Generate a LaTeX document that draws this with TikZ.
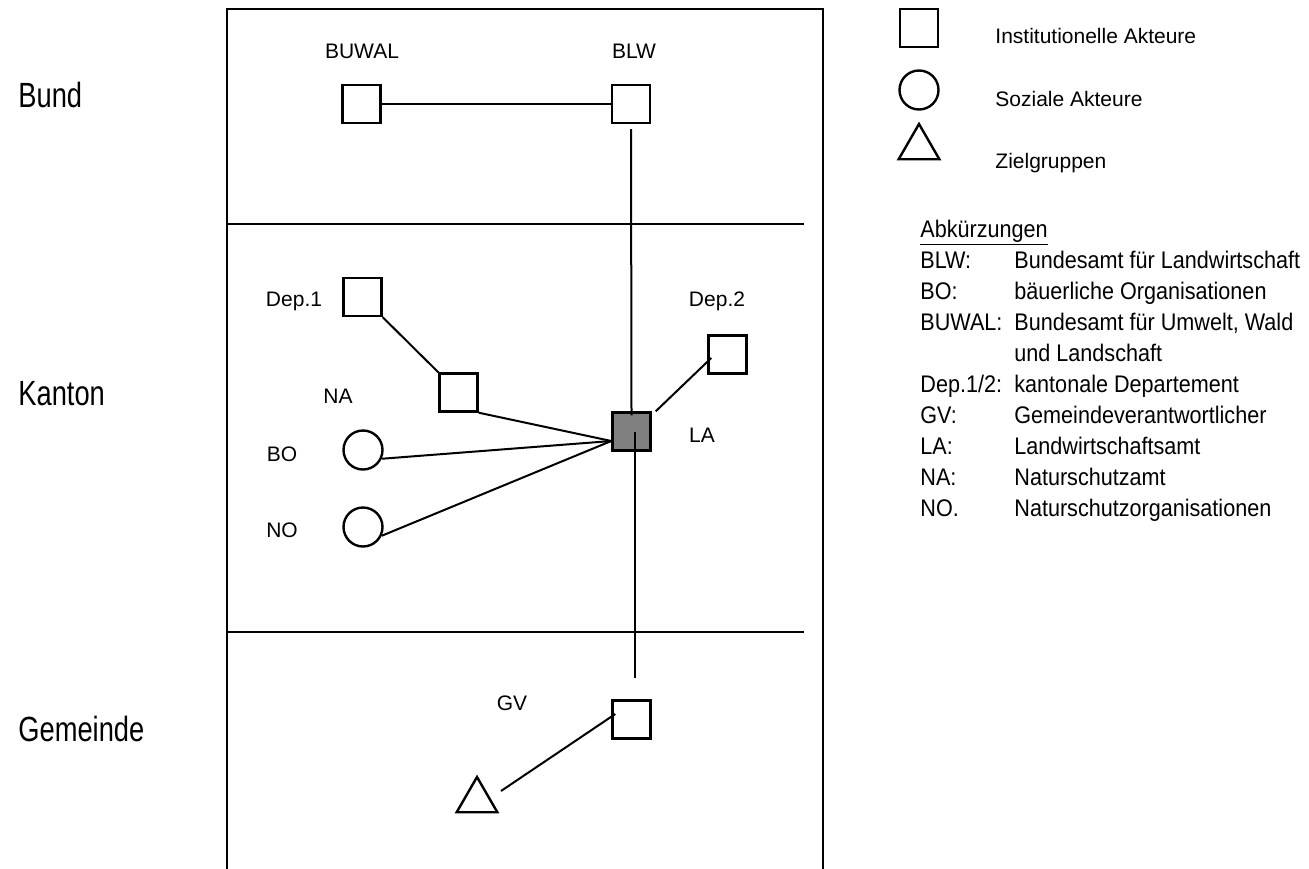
\documentclass[tikz,border=0pt]{standalone}
\usepackage{fontspec}
\setmainfont{Liberation Sans}
\newfontfamily\narrowfont{Liberation Sans}[FakeStretch=0.78]
\newfontfamily\listfont{Liberation Sans}[FakeStretch=0.9]
\usetikzlibrary{shapes.geometric}
\definecolor{lagray}{rgb}{0.5,0.5,0.5}

\begin{document}
\begin{tikzpicture}
    [x=0.5pt, y=-0.5pt,
    inst/.style={draw, line width=1.2pt, minimum size=19pt, inner sep=0pt},
    soz/.style={circle, draw, line width=1.2pt, minimum size=19.5pt, inner sep=0pt},
    ziel/.style={regular polygon, regular polygon sides=3, draw, line width=1.2pt, minimum size=23.5pt, inner sep=0pt},
    lbl/.style={font=\fontsize{10.5}{12}\selectfont, inner sep=0pt, anchor=base},
    ebene/.style={font=\narrowfont\fontsize{17.5}{20}\selectfont, inner sep=0pt, anchor=base west},
    leg/.style={font=\fontsize{10.5}{12}\selectfont, inner sep=0pt, anchor=base west},
    abk/.style={font=\listfont\fontsize{12}{14}\selectfont, inner sep=0pt, anchor=base west},
    line/.style={line width=1pt}]
    \useasboundingbox (0,0) rectangle (1309,868);
    % frame and levels
    \draw[line width=1.25pt] (227,880) -- (227,9) -- (823,9) -- (823,880);
    \draw[line] (227,224) -- (804,224);
    \draw[line] (227,632) -- (804,632);
    \node[ebene] (bund) at (18,107) {Bund};
    \node[ebene] (kanton) at (18,405) {Kanton};
    \node[ebene] (gemeinde) at (18,741) {Gemeinde};
    % actors
    \node[inst] (BUWAL) at (361.5,104) {};
    \node[inst] (BLW) at (631,104) {};
    \node[inst] (Dep1) at (362.5,297) {};
    \node[inst] (NA) at (458.5,392.5) {};
    \node[inst] (Dep2) at (727.5,354.5) {};
    \node[inst, fill=lagray] (LA) at (631.5,431.5) {};
    \node[soz] (BO) at (363,450) {};
    \node[soz] (NO) at (363,527) {};
    \node[inst] (GV) at (631.5,719.5) {};
    \node[ziel] (Tri) at (477,800.5) {};
    % labels
    \node[lbl] (lBUWAL) at (362,58) {BUWAL};
    \node[lbl] (lBLW) at (634,58) {BLW};
    \node[lbl] (lDep1) at (294,306.5) {Dep.1};
    \node[lbl] (lDep2) at (717,306.5) {Dep.2};
    \node[lbl] (lNA) at (338,403.5) {NA};
    \node[lbl] (lLA) at (702,442.5) {LA};
    \node[lbl] (lBO) at (282,461.5) {BO};
    \node[lbl] (lNO) at (282,537.5) {NO};
    \node[lbl] (lGV) at (512,710.5) {GV};
    % connections
    \coordinate (LAin) at ([yshift=-4.75pt]LA.west);
    \draw[line] (BUWAL) -- (BLW);
    \draw[line] ([yshift=-2.5pt]BLW.south) -- ([yshift=-2pt]LA.north);
    \draw[line] ([xshift=1.75pt]LA.center) -- ([xshift=1.75pt,yshift=10.5pt]GV.north);
    \draw[line] (Dep1.south east) -- (NA.north west);
    \draw[line] (NA.south east) -- (LAin);
    \draw[line] (BO.-25) -- (LAin);
    \draw[line] (NO.-25) -- (LAin);
    \draw[line] ([xshift=2pt,yshift=-1.75pt]Dep2.west) -- ([xshift=2pt]LA.north east);
    \draw[line] ([xshift=2pt,yshift=2.75pt]GV.west) -- ([xshift=12pt,yshift=4.75pt]Tri.center);
    % legend
    \node[inst] (legInst) at (919,28) {};
    \node[soz] (legSoz) at (919,90) {};
    \node[ziel] (legZiel) at (919,147.5) {};
    \node[leg] (tInst) at (995,43) {Institutionelle Akteure};
    \node[leg] (tSoz) at (995,106) {Soziale Akteure};
    \node[leg] (tZiel) at (995,168) {Zielgruppen};
    \node[abk] (abkTitel) at (920,237) {\underline{Abkürzungen}};
    \foreach \ab/\txt [count=\i from 0] in {{BLW:}/{Bundesamt für Landwirtschaft},
        {BO:}/{bäuerliche Organisationen}, {BUWAL:}/{Bundesamt für Umwelt, Wald},
        {}/{und Landschaft}, {Dep.1/2:}/{kantonale Departement},
        {GV:}/{Gemeindeverantwortlicher}, {LA:}/{Landwirtschaftsamt},
        {NA:}/{Naturschutzamt}, {NO.}/{Naturschutzorganisationen}}
    {
        \node[abk] (ab\i) at (920,{268+31.1*\i}) {\ab};
        \node[abk] (ex\i) at (1014,{268+31.1*\i}) {\txt};
    }
\end{tikzpicture}
\end{document}
